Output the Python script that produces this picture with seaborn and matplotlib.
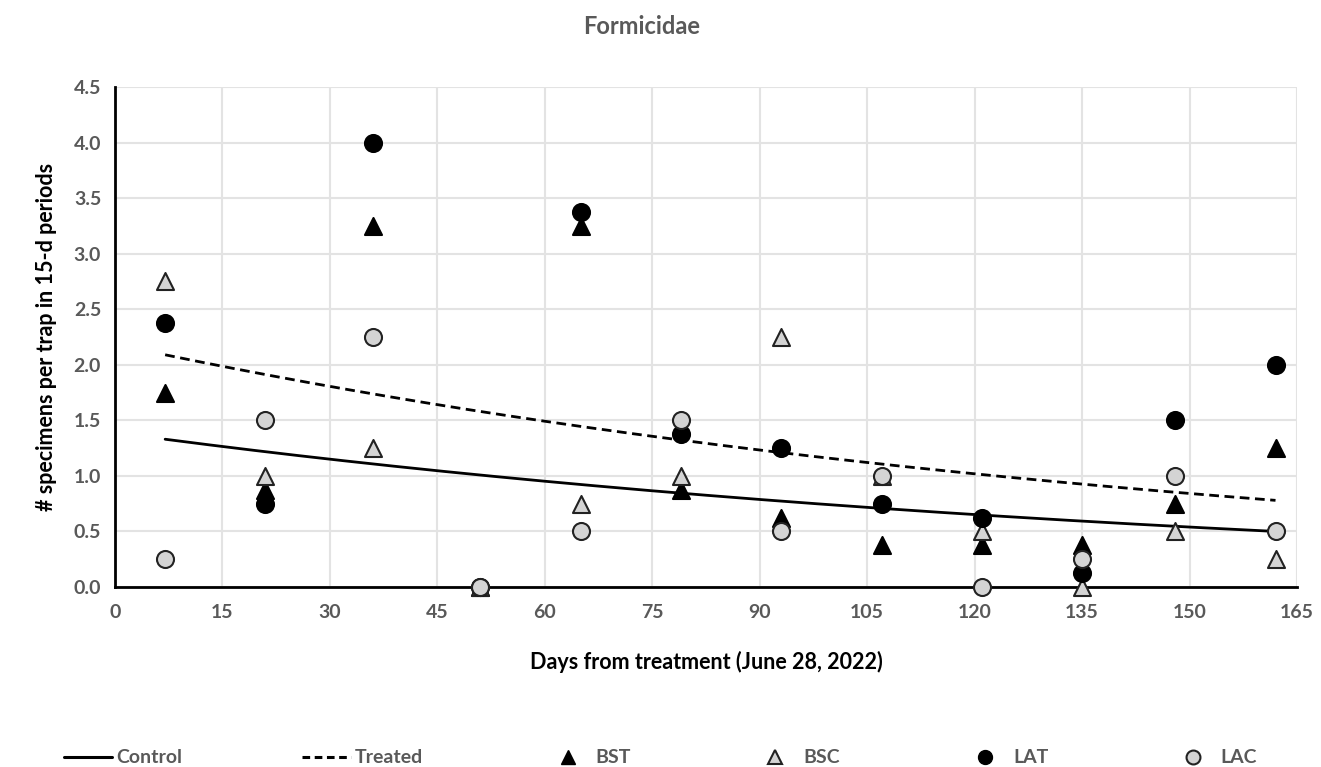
import numpy as np
import pandas as pd
import matplotlib
matplotlib.use("Agg")
import matplotlib.pyplot as plt
from matplotlib.lines import Line2D
from matplotlib.ticker import MultipleLocator
import seaborn as sns

# ---------------- data ----------------
days = [7, 21, 36, 51, 65, 79, 93, 107, 121, 135, 148, 162]
bst = [1.75, 0.875, 3.25, 0.0, 3.25, 0.875, 0.625, 0.375, 0.375, 0.375, 0.75, 1.25]
bsc = [2.75, 1.0, 1.25, 0.0, 0.75, 1.0, 2.25, 1.0, 0.5, 0.0, 0.5, 0.25]
lat = [2.375, 0.75, 4.0, 0.0, 3.375, 1.375, 1.25, 0.75, 0.625, 0.125, 1.5, 2.0]
lac = [0.25, 1.5, 2.25, 0.0, 0.5, 1.5, 0.5, 1.0, 0.0, 0.25, 1.0, 0.5]

# exponential trend lines (y = a * exp(b * x))
control_a, control_b = 1.39, -0.00631
treated_a, treated_b = 2.185, -0.00636

# ---------------- plot ----------------
sns.set_style("whitegrid")
plt.rcParams['font.family'] = ['Lato', 'DejaVu Sans']
GREY_TXT = "#595959"
LIGHT = "#d4d4d4"

fig = plt.figure(figsize=(13.21, 7.67), dpi=100)
ax = fig.add_axes([115 / 1321, 1 - 587 / 767, (1297 - 115) / 1321, (587 - 87) / 767])

trend_x = np.linspace(days[0], days[-1], 200)
trend = pd.DataFrame({
    "x": trend_x,
    "Control": control_a * np.exp(control_b * trend_x),
    "Treated": treated_a * np.exp(treated_b * trend_x),
})
sns.lineplot(data=trend, x="x", y="Control", color="black", lw=2, ax=ax, zorder=3)
sns.lineplot(data=trend, x="x", y="Treated", color="black", lw=2, ls=(0, (3.5, 2)), ax=ax, zorder=3)

df = pd.DataFrame({"day": days, "BST": bst, "BSC": bsc, "LAT": lat, "LAC": lac})
styles = {
    "BST": dict(marker="^", color="black", edgecolor="black"),
    "BSC": dict(marker="^", color=LIGHT, edgecolor="#222222"),
    "LAT": dict(marker="o", color="black", edgecolor="black"),
    "LAC": dict(marker="o", color=LIGHT, edgecolor="#222222"),
}
for name, st in styles.items():
    sns.scatterplot(data=df, x="day", y=name, s=150, linewidth=1.5, ax=ax,
                    zorder=4, clip_on=False, **st)

ax.set_xlim(0, 165)
ax.set_ylim(0, 4.5)
ax.xaxis.set_major_locator(MultipleLocator(15))
ax.xaxis.set_minor_locator(MultipleLocator(5))
ax.yaxis.set_major_locator(MultipleLocator(0.5))
ax.yaxis.set_minor_locator(MultipleLocator(0.1))
ax.yaxis.set_major_formatter(matplotlib.ticker.FormatStrFormatter("%.1f"))
ax.grid(True, which="major", color="#e3e3e3", lw=1.5)
ax.grid(False, which="minor")

for side in ["top", "right"]:
    ax.spines[side].set_visible(False)
for side in ["left", "bottom"]:
    ax.spines[side].set_color("black")
    ax.spines[side].set_linewidth(2)

ax.tick_params(which="major", direction="inout", length=12, width=1.8, color="black",
               labelsize=14, labelcolor=GREY_TXT, pad=4)
ax.tick_params(which="minor", direction="inout", length=6, width=1.5, color="black")
ax.tick_params(axis="x", which="minor", direction="out", length=6)
ax.tick_params(axis="x", which="major", pad=6)
for lab in ax.get_xticklabels() + ax.get_yticklabels():
    lab.set_fontweight("bold")

ax.set_xlabel("Days from treatment (June 28, 2022)", fontsize=15.5, fontweight="bold",
              color="black", labelpad=22)
ax.set_ylabel("# specimens per trap in 15-d periods", fontsize=15.5, fontweight="bold",
              color="black", labelpad=12)
fig.text(0.486, 0.965, "Formicidae", ha="center", va="center", fontsize=17,
         fontweight="bold", color=GREY_TXT)

handles = [
    Line2D([], [], color="black", lw=2.2),
    Line2D([], [], color="black", lw=2.2, ls=(0, (2.5, 1.5))),
    Line2D([], [], marker="^", color="black", ls="", ms=10, mec="black"),
    Line2D([], [], marker="^", color=LIGHT, ls="", ms=10, mec="#222222", mew=1.5),
    Line2D([], [], marker="o", color="black", ls="", ms=10, mec="black"),
    Line2D([], [], marker="o", color=LIGHT, ls="", ms=10, mec="#222222", mew=1.5),
]
labels = ["Control", "Treated", "BST", "BSC", "LAT", "LAC"]
leg = fig.legend(handles, labels, loc="lower left", ncol=6, mode="expand",
                 bbox_to_anchor=(0.035, -0.022, 0.93, 0.03), frameon=False,
                 handlelength=2.5, handletextpad=0.2,
                 prop={"weight": "bold", "size": 14})
for t in leg.get_texts():
    t.set_color(GREY_TXT)

fig.savefig("out.png", dpi=100)
